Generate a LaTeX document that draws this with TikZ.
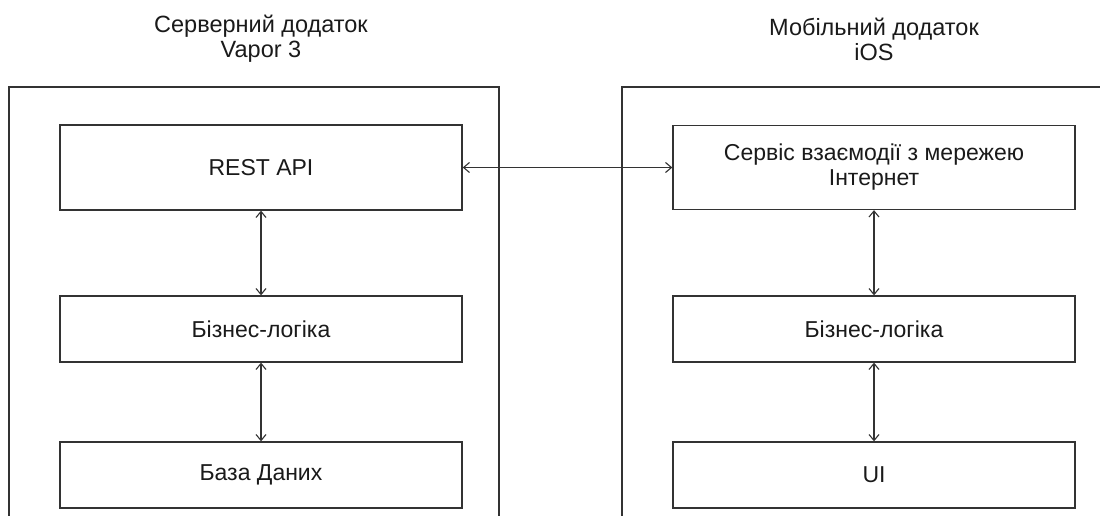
\documentclass[tikz,border=0pt]{standalone}
\usepackage{fontspec}
\setmainfont{Liberation Sans}
\usetikzlibrary{arrows.meta}
\definecolor{linec}{HTML}{333333}
\definecolor{textc}{HTML}{1A1A1A}
\tikzset{
  layer/.style={draw=linec, line width=1.3pt, fill=white, minimum width=402pt, inner sep=0pt, text=textc, align=center, font=\fontsize{23}{25}\selectfont},
  container/.style={draw=linec, line width=1.3pt, inner sep=0pt},
  heading/.style={text=textc, align=center, font=\fontsize{23.5}{25}\selectfont},
  link/.style={draw=linec, line width=1.1pt, {Straight Barb[length=6pt,width=10pt]}-{Straight Barb[length=6pt,width=10pt]}}
}
\begin{document}
\begin{tikzpicture}[x=1pt,y=-1pt]
\useasboundingbox (0,0) rectangle (1100,516);
\clip (0,0) rectangle (1100,516);
% containers
\draw[container] (9,87) rectangle (499,540);
\draw[container] (622,87) rectangle (1120,540);
% headings
\node[heading] (hleft) at (261,39) {Серверний додаток\\Vapor 3};
\node[heading] (hright) at (874,39) {Мобільний додаток\\iOS};
% left column
\node[layer, minimum height=85pt] (rest) at (261,167.5) {REST API};
\node[layer, minimum height=66pt] (bl) at (261,329) {Бізнес-логіка};
\node[layer, minimum height=66pt] (db) at (261,475) {База Даних};
% right column
\node[layer, minimum height=84pt] (net) at (874,167.5) {Сервіс взаємодії з мережею\\Інтернет};
\node[layer, minimum height=66pt] (br) at (874,329) {Бізнес-логіка};
\node[layer, minimum height=66pt] (ui) at (874,475) {UI};
% connectors
\draw[link] (rest.east) -- (net.west);
\draw[link] (rest.south) -- (bl.north);
\draw[link] (bl.south) -- (db.north);
\draw[link] (net.south) -- (br.north);
\draw[link] (br.south) -- (ui.north);
\end{tikzpicture}
\end{document}
